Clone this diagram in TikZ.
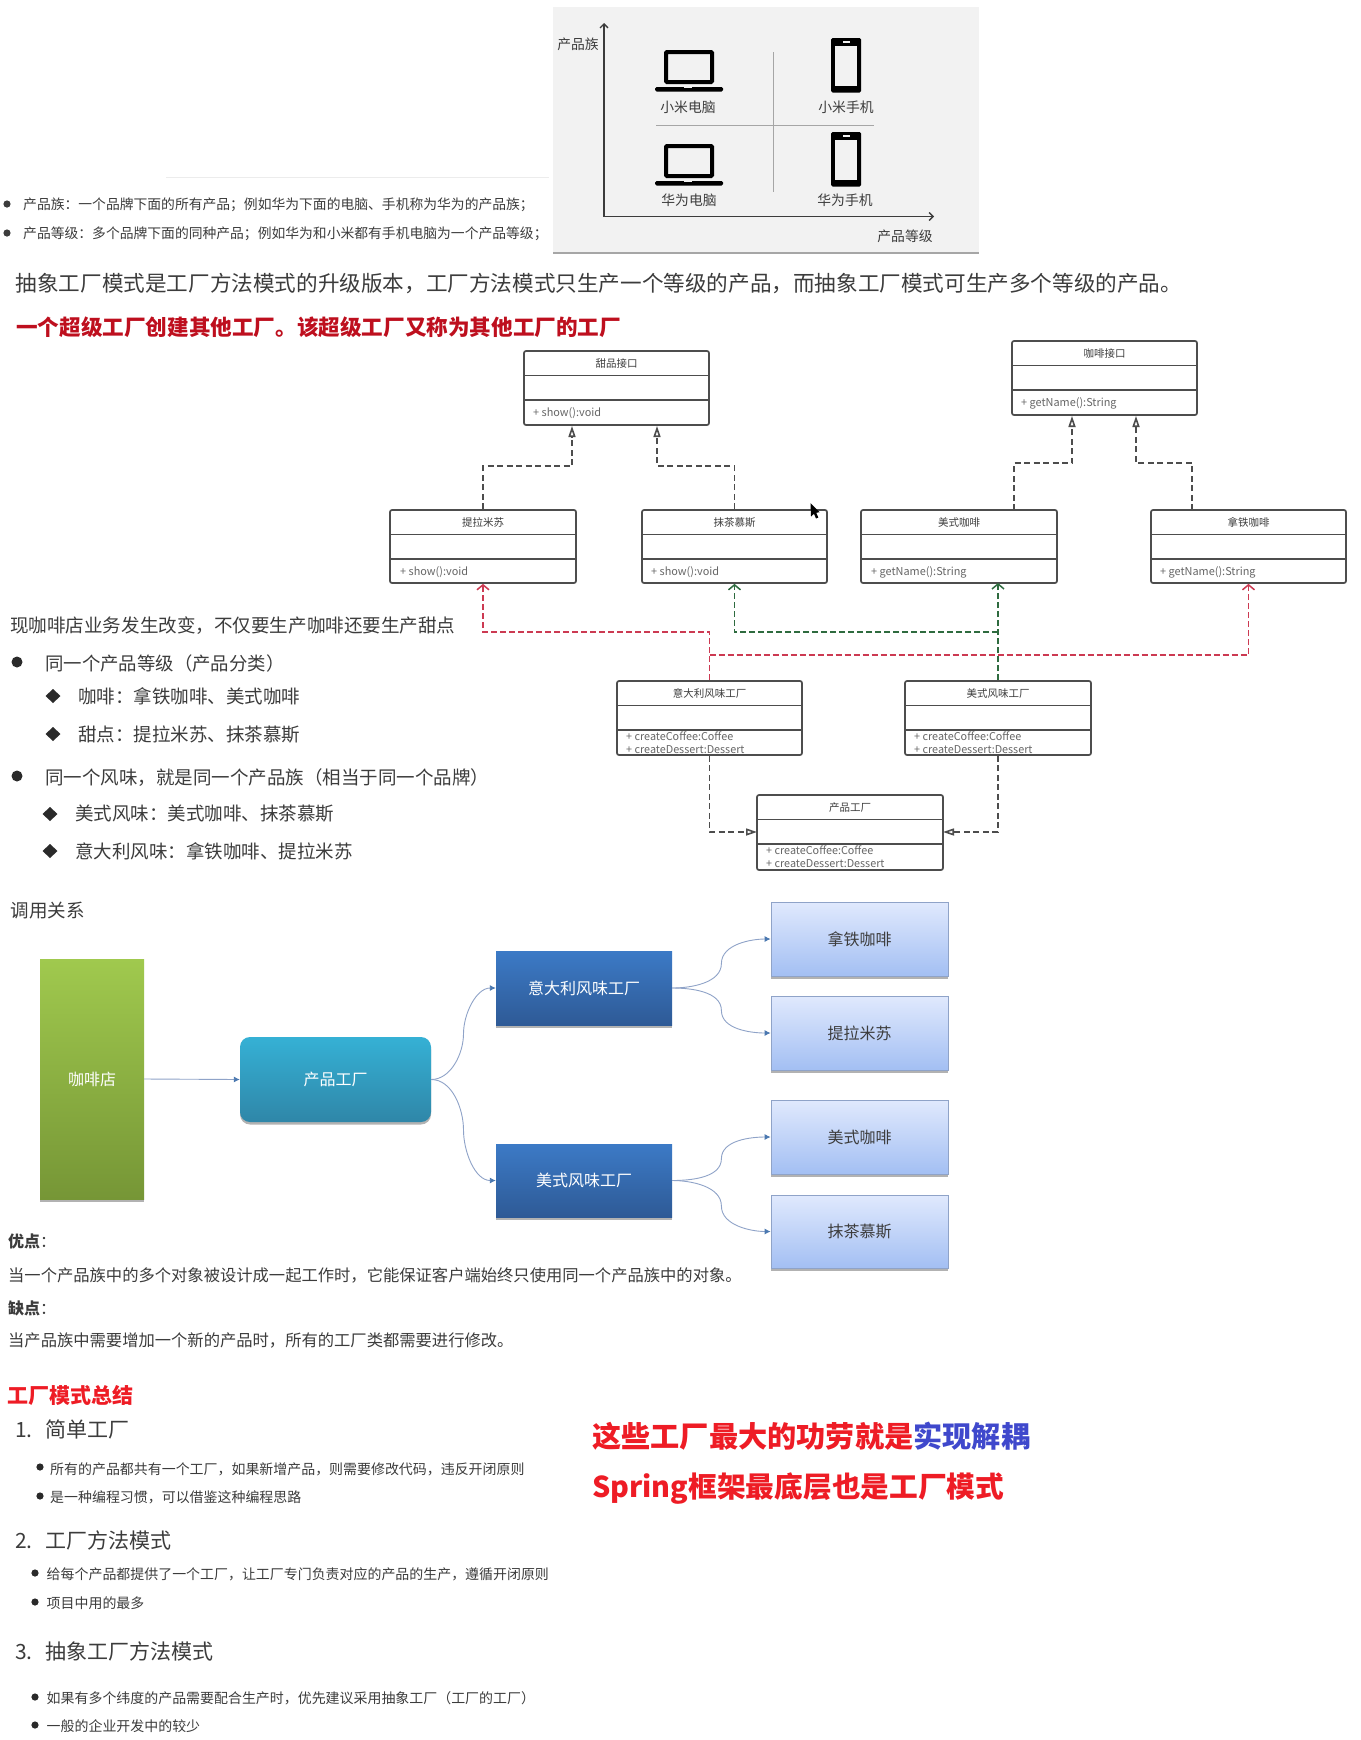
\documentclass[tikz,border=0pt]{standalone}
\usepackage{fontspec}
\setmainfont{Noto Sans CJK SC}
\usetikzlibrary{arrows.meta,calc,shadows}
\definecolor{ink}{HTML}{3C3C3C}
\definecolor{panelc}{HTML}{F2F2F2}
\definecolor{umll}{HTML}{4D4D4D}
\definecolor{umlt}{HTML}{666666}
\definecolor{redd}{HTML}{CC3A52}
\definecolor{grn}{HTML}{2E6B3F}
\definecolor{cvc}{HTML}{8FA3C8}
\definecolor{tipc}{HTML}{4A78B0}
\definecolor{hred}{HTML}{BE0F1E}
\definecolor{bred}{HTML}{EE1C25}
\definecolor{bblue}{HTML}{3F48CC}
\definecolor{HL}{HTML}{E0E9FD}
\definecolor{HB}{HTML}{A3BFF3}
\definecolor{gra}{HTML}{A0C94E}
\definecolor{grb}{HTML}{769636}
\definecolor{cya}{HTML}{35B1D5}
\definecolor{cyb}{HTML}{2F86A8}
\definecolor{bla}{HTML}{3C7AC6}
\definecolor{blb}{HTML}{2E5A96}
\newcommand{\zc}{\symbol{"FF1A}}
\newcommand{\zs}{\symbol{"FF1B}}
\newcommand{\zk}{\symbol{"FF0C}}
\newcommand{\zl}{\symbol{"FF08}}
\newcommand{\zr}{\symbol{"FF09}}
\newcount\tn
\newcommand{\tx}[5][]{\global\advance\tn by 1
  \node[anchor=base west,inner sep=0pt,text=ink,font=\fontsize{#4}{#4}\selectfont,yshift={-0.36*#4*1pt-1pt},#1] (t\the\tn) at (#2,#3) {#5};}
\newcommand{\umlb}[6]{%
  \pgfmathsetmacro{\cxx}{(#2+#4)/2}\pgfmathsetmacro{\cyy}{(#3+#5)/2}
  \pgfmathsetmacro{\ww}{#4-#2}\pgfmathsetmacro{\hh}{#5-#3}
  \pgfmathsetmacro{\la}{#3+24.5}\pgfmathsetmacro{\lb}{#3+49}\pgfmathsetmacro{\ty}{#3+12}
  \node[umlbox,minimum width=\ww pt,minimum height=\hh pt] (#1) at (\cxx,\cyy) {};
  \draw[umlline] (#2,\la) -- (#4,\la);
  \draw[umlline] (#2,\lb) -- (#4,\lb);
  \tx[anchor=base,text=ink]{\cxx}{\ty}{10.5}{#6}}
\newcommand{\lap}[2]{\begin{scope}[shift={(#1,#2)}]
  \draw[black,line width=4pt,rounded corners=1pt] (2,2) rectangle (48,32);
  \fill[black,rounded corners=1.5pt] (-9,37) rectangle (59,41.5);
  \fill[panelc] (20,36.5) rectangle (28,38.4);
  \end{scope}}
\newcommand{\phn}[2]{\begin{scope}[shift={(#1,#2)}]
  \fill[black,rounded corners=1.5pt] (0,0) rectangle (30,54.5);
  \fill[panelc] (4,7.5) rectangle (26,47.5);
  \fill[panelc] (12,3) rectangle (19,5);
  \end{scope}}
\tikzset{
  umlbox/.style={draw=umll,line width=1.7pt,rounded corners=2pt,fill=white,inner sep=0pt},
  umlline/.style={umll,line width=1.5pt},
  real/.style={umll,line width=1.6pt,dash pattern=on 6pt off 3.5pt,-{Triangle[open,fill=white,length=11pt,width=7pt]}},
  redc/.style={redd,line width=1.5pt,dash pattern=on 6pt off 3pt},
  grnc/.style={grn,line width=1.5pt,dash pattern=on 6pt off 3pt},
  barb/.style={-{Straight Barb[length=5pt,width=12pt]}},
  axis/.style={ink,line width=1.3pt,-{Straight Barb[length=4pt,width=8pt]}},
  flowb/.style={inner sep=0pt,text=white,font=\fontsize{16}{16}\selectfont,general shadow={shadow xshift=0pt,shadow yshift=-2.5pt,fill=black,opacity=.3}},
  lightb/.style={draw=cvc,line width=.8pt,inner sep=0pt,text=ink,top color=HL,bottom color=HB,font=\fontsize{16}{16}\selectfont,general shadow={shadow xshift=0pt,shadow yshift=-2.5pt,fill=black,opacity=.3}},
  cv/.style={cvc,line width=.9pt,-{Latex[length=6pt,width=6pt,color=tipc]}},
}
\begin{document}
\begin{tikzpicture}[x=1pt,y=-1pt]
\useasboundingbox (0,0) rectangle (1360,1740);
\fill[white] (0,0) rectangle (1360,1740);
% top panel
\node[fill=panelc,inner sep=0pt,minimum width=426pt,minimum height=245pt,general shadow={shadow xshift=0pt,shadow yshift=-2.5pt,fill=black,opacity=.35}] (panel) at (766,129) {};
\coordinate (o) at (604,216.5);\coordinate (ay) at (604,23);\coordinate (ax) at (934,216.5);
\draw[axis] (o) -- (ay);
\draw[axis] (o) -- (ax);
\draw[gray!70,line width=.6pt] (773,52) -- (773,192);
\draw[gray!70,line width=.6pt] (656,125) -- (874,125);
\lap{664}{50}\lap{664}{144}
\phn{831}{38}\phn{831}{132}
\tx[anchor=base]{688}{107}{13.8}{小米电脑}
\tx[anchor=base]{846}{107}{13.8}{小米手机}
\tx[anchor=base]{689}{200}{13.8}{华为电脑}
\tx[anchor=base]{845}{200}{13.8}{华为手机}
\tx[anchor=base]{578}{44}{13.8}{产品族}
\tx[anchor=base]{905}{235.5}{13.8}{产品等级}
\draw[gray!15,line width=.8pt] (166,177) -- (549,177);
% intro
\fill[ink] (7,204) circle (3.6pt);\fill[ink] (7,233) circle (3.6pt);
\tx{23}{204}{13.8}{产品族\zc{}一个品牌下面的所有产品\zs{}例如华为下面的电脑、手机称为华为的产品族\zs}
\tx{23}{233}{13.8}{产品等级\zc{}多个品牌下面的同种产品\zs{}例如华为和小米都有手机电脑为一个产品等级\zs}
\tx{15.5}{283}{21.6}{抽象工厂模式是工厂方法模式的升级版本\zk{}工厂方法模式只生产一个等级的产品\zk{}而抽象工厂模式可生产多个等级的产品。}
\tx[text=hred,font=\fontsize{21.6}{21.6}\selectfont\bfseries]{16}{327}{21.6}{一个超级工厂创建其他工厂。该超级工厂又称为其他工厂的工厂}
% UML
\umlb{dp}{524}{351}{709}{425}{甜品接口}
\tx[text=umlt]{533}{412}{10.9}{+ show():void}
\umlb{cp}{1012}{341}{1197}{415}{咖啡接口}
\tx[text=umlt]{1021}{402}{10.9}{+ getName():String}
\umlb{tl}{390}{510}{576}{583}{提拉米苏}
\tx[text=umlt]{400}{571}{10.9}{+ show():void}
\umlb{mc}{642}{510}{827}{583}{抹茶慕斯}
\tx[text=umlt]{651}{571}{10.9}{+ show():void}
\umlb{am}{861}{510}{1057}{583}{美式咖啡}
\tx[text=umlt]{871}{571}{10.9}{+ getName():String}
\umlb{nt}{1151}{510}{1346}{583}{拿铁咖啡}
\tx[text=umlt]{1160}{571}{10.9}{+ getName():String}
\umlb{itf}{617}{681}{802}{755}{意大利风味工厂}
\tx[text=umlt]{626}{736}{10.8}{+ createCoffee:Coffee}
\tx[text=umlt]{626}{749}{10.8}{+ createDessert:Dessert}
\umlb{usf}{905}{681}{1091}{755}{美式风味工厂}
\tx[text=umlt]{914}{736}{10.8}{+ createCoffee:Coffee}
\tx[text=umlt]{914}{749}{10.8}{+ createDessert:Dessert}
\umlb{pf}{757}{795}{943}{870}{产品工厂}
\tx[text=umlt]{766}{850}{10.8}{+ createCoffee:Coffee}
\tx[text=umlt]{766}{863}{10.8}{+ createDessert:Dessert}
% realisation
\coordinate (dpa) at (572,426);\coordinate (dpb) at (657,426);
\coordinate (cpa) at (1072,416);\coordinate (cpb) at (1136,416);
\coordinate (ama) at (1014,510);\coordinate (ntb) at (1192,510);
\draw[real] (tl.north) -- ++(0,-43) -| (dpa);
\draw[real] (mc.north) -- ++(0,-43) -| (dpb);
\draw[real] (ama) -- ++(0,-47) -| (cpa);
\draw[real] (ntb) -- ++(0,-47) -| (cpb);
% factory product links
\coordinate (itt) at (709.5,632);\coordinate (itm) at (709.5,655);
\coordinate (ust) at (998,632);
\coordinate (amb) at (998,583);
\draw[redc,barb] (itf.north) -- (itt) -| (tl.south);
\draw[redc,barb] (itm) -| (nt.south);
\draw[grnc,barb] (usf.north) -- (amb);
\draw[grnc,barb] (ust) -| (mc.south);
\coordinate (pfl) at (757,832);\coordinate (pfr) at (943,832);
\draw[real] (itf.south) |- (pfl);
\draw[real] (usf.south) |- (pfr);
% cursor
\fill[black] (810.5,503) -- (811,516.5) -- (814,513.8) -- (816,518.5) -- (818.3,517.5) -- (816.3,512.8) -- (819.5,512.2) -- cycle;
% left text
\tx{10}{625}{18.55}{现咖啡店业务发生改变\zk{}不仅要生产咖啡还要生产甜点}
\fill[ink!70!black] (17,662) circle (5.5pt);\fill[ink!70!black] (17,776) circle (5.5pt);
\tx{45}{663}{18.4}{同一个产品等级\zl{}产品分类\zr}
\tx{78}{696}{18.5}{咖啡\zc{}拿铁咖啡、美式咖啡}
\tx{78}{734}{18.5}{甜点\zc{}提拉米苏、抹茶慕斯}
\tx{45}{777}{18.5}{同一个风味\zk{}就是同一个产品族\zl{}相当于同一个品牌\zr}
\tx{75}{813}{18.5}{美式风味\zc{}美式咖啡、抹茶慕斯}
\tx{75}{851}{18.5}{意大利风味\zc{}拿铁咖啡、提拉米苏}
\foreach \dx/\dy in {53/696,53/734,50/814,50/851}{\fill[ink!70!black] (\dx-7.5,\dy) -- (\dx,\dy-7) -- (\dx+7.5,\dy) -- (\dx,\dy+7) -- cycle;}
\tx{10.5}{910}{18.5}{调用关系}
% flow
\node[flowb,top color=gra,bottom color=grb,minimum width=104pt,minimum height=240pt] (shop) at (92,1079) {咖啡店};
\node[flowb,rounded corners=10pt,top color=cya,bottom color=cyb,minimum width=191pt,minimum height=85pt] (prod) at (335.5,1079.5) {产品工厂};
\node[flowb,top color=bla,bottom color=blb,minimum width=176pt,minimum height=74pt] (ita) at (584,988) {意大利风味工厂};
\node[flowb,top color=bla,bottom color=blb,minimum width=176pt,minimum height=73pt] (usa) at (584,1180.5) {美式风味工厂};
\node[lightb,minimum width=177pt,minimum height=74pt] (latte) at (859.5,939) {拿铁咖啡};
\node[lightb,minimum width=177pt,minimum height=74pt] (tira) at (859.5,1033) {提拉米苏};
\node[lightb,minimum width=177pt,minimum height=74pt] (amer) at (859.5,1137) {美式咖啡};
\node[lightb,minimum width=177pt,minimum height=73pt] (matcha) at (859.5,1231.5) {抹茶慕斯};
\draw[cv] (shop.east) -- (prod.west);
\foreach \a/\b/\m in {prod/ita/m1,prod/usa/m2,ita/latte/m3,ita/tira/m4,usa/amer/m5,usa/matcha/m6}{
  \coordinate (\m) at ($(\a.east)!.5!(\b.west)$);
}
\foreach \a/\b/\m in {prod/ita/m1,ita/latte/m3,usa/amer/m5}{
  \draw[cv] (\a.east) to[out=0,in=-90,looseness=.9] (\m) to[out=90,in=180,looseness=.9] (\b.west);
}
\foreach \a/\b/\m in {prod/usa/m2,ita/tira/m4,usa/matcha/m6}{
  \draw[cv] (\a.east) to[out=0,in=90,looseness=.9] (\m) to[out=-90,in=180,looseness=.9] (\b.west);
}
% pros/cons
\tx{8}{1241}{16}{\textbf{优点}\zc}
\tx{8}{1275}{16.3}{当一个产品族中的多个对象被设计成一起工作时\zk{}它能保证客户端始终只使用同一个产品族中的对象。}
\tx{8}{1308}{16}{\textbf{缺点}\zc}
\tx{8}{1340}{16.3}{当产品族中需要增加一个新的产品时\zk{}所有的工厂类都需要进行修改。}
% summary
\tx[text=bred,font=\fontsize{21}{21}\selectfont\bfseries]{7}{1395}{21}{工厂模式总结}
\tx{15}{1429}{21}{1.}\tx{45}{1429}{21}{简单工厂}
\tx{15}{1540}{21}{2.}\tx{45}{1540}{21}{工厂方法模式}
\tx{15}{1651}{21}{3.}\tx{45}{1651}{21}{抽象工厂方法模式}
\foreach \dx/\dy in {40/1467,40/1496,35/1573,35/1602,35/1697,35/1725}{\fill[ink!70!black] (\dx,\dy) circle (3.6pt);}
\tx{50}{1468}{13.95}{所有的产品都共有一个工厂\zk{}如果新增产品\zk{}则需要修改代码\zk{}违反开闭原则}
\tx{50}{1496}{13.95}{是一种编程习惯\zk{}可以借鉴这种编程思路}
\tx{46.5}{1573}{13.95}{给每个产品都提供了一个工厂\zk{}让工厂专门负责对应的产品的生产\zk{}遵循开闭原则}
\tx{46.5}{1602}{13.95}{项目中用的最多}
\tx{46.5}{1697}{13.95}{如果有多个纬度的产品需要配合生产时\zk{}优先建议采用抽象工厂\zl{}工厂的工厂\zr}
\tx{46.5}{1725}{13.95}{一般的企业开发中的较少}
\tx[text=bred,font=\fontsize{29.2}{29.2}\selectfont\bfseries]{592}{1436}{29.2}{这些工厂最大的功劳就是\textcolor{bblue}{实现解耦}}
\tx[text=bred,font=\fontsize{28.7}{28.7}\selectfont\bfseries]{592}{1486}{28.7}{Spring框架最底层也是工厂模式}
\end{tikzpicture}
\end{document}
